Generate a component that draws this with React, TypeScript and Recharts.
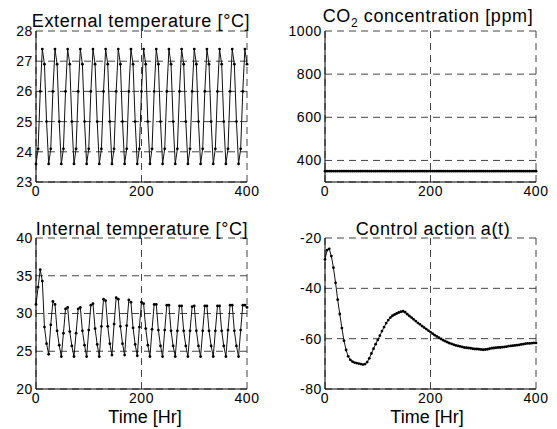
import React from "react";
import {
  LineChart,
  Line,
  XAxis,
  YAxis,
  CartesianGrid,
} from "recharts";

// time axis, 4 hour samples
const hours = [
  0, 4, 8, 12, 16, 20, 24, 28, 32, 36, 40, 44, 48, 52, 56, 60, 64, 68, 72, 76,
  80, 84, 88, 92, 96, 100, 104, 108, 112, 116, 120, 124, 128, 132, 136, 140,
  144, 148, 152, 156, 160, 164, 168, 172, 176, 180, 184, 188, 192, 196, 200,
  204, 208, 212, 216, 220, 224, 228, 232, 236, 240, 244, 248, 252, 256, 260,
  264, 268, 272, 276, 280, 284, 288, 292, 296, 300, 304, 308, 312, 316, 320,
  324, 328, 332, 336, 340, 344, 348, 352, 356, 360, 364, 368, 372, 376, 380,
  384, 388, 392, 396, 400,
];

const extTemp = [
  23.6, 24.1, 26.0, 27.4, 26.9, 25.0,
  23.6, 24.1, 26.0, 27.4, 26.9, 25.0,
  23.6, 24.1, 26.0, 27.4, 26.9, 25.0,
  23.6, 24.1, 26.0, 27.4, 26.9, 25.0,
  23.6, 24.1, 26.0, 27.4, 26.9, 25.0,
  23.6, 24.1, 26.0, 27.4, 26.9, 25.0,
  23.6, 24.1, 26.0, 27.4, 26.9, 25.0,
  23.6, 24.1, 26.0, 27.4, 26.9, 25.0,
  23.6, 24.1, 26.0, 27.4, 26.9, 25.0,
  23.6, 24.1, 26.0, 27.4, 26.9, 25.0,
  23.6, 24.1, 26.0, 27.4, 26.9, 25.0,
  23.6, 24.1, 26.0, 27.4, 26.9, 25.0,
  23.6, 24.1, 26.0, 27.4, 26.9, 25.0,
  23.6, 24.1, 26.0, 27.4, 26.9, 25.0,
  23.6, 24.1, 26.0, 27.4, 26.9, 25.0,
  23.6, 24.1, 26.0, 27.4, 26.9, 25.0,
  23.6, 24.1, 26.0, 27.4, 26.9,
];

const co2 = [
  350, 350, 350, 350, 350, 350, 350, 350, 350, 350, 350, 350, 350, 350, 350,
  350, 350, 350, 350, 350, 350, 350, 350, 350, 350, 350, 350, 350, 350, 350,
  350, 350, 350, 350, 350, 350, 350, 350, 350, 350, 350, 350, 350, 350, 350,
  350, 350, 350, 350, 350, 350, 350, 350, 350, 350, 350, 350, 350, 350, 350,
  350, 350, 350, 350, 350, 350, 350, 350, 350, 350, 350, 350, 350, 350, 350,
  350, 350, 350, 350, 350, 350, 350, 350, 350, 350, 350, 350, 350, 350, 350,
  350, 350, 350, 350, 350, 350, 350, 350, 350, 350, 350,
];

const intTemp = [
  31.2, 33.5, 35.8, 34.3, 28.2, 26.0,
  24.6, 28.5, 31.6, 31.2, 27.7, 25.8,
  24.3, 27.4, 30.6, 30.8, 27.6, 25.7,
  24.3, 27.4, 30.6, 30.8, 27.7, 25.8,
  24.3, 27.8, 31.1, 31.3, 28.0, 25.9,
  24.3, 28.3, 31.9, 31.7, 28.3, 26.0,
  24.5, 28.6, 32.1, 31.9, 28.3, 26.0,
  24.5, 28.4, 31.8, 31.5, 28.1, 25.9,
  24.4, 28.2, 31.5, 31.3, 28.0, 25.8,
  24.3, 27.9, 31.2, 31.2, 27.8, 25.7,
  24.3, 27.8, 31.1, 31.1, 27.7, 25.7,
  24.3, 27.7, 31.0, 31.0, 27.7, 25.7,
  24.3, 27.7, 30.9, 31.0, 27.7, 25.7,
  24.3, 27.7, 31.0, 31.0, 27.7, 25.7,
  24.3, 27.7, 31.0, 31.0, 27.7, 25.7,
  24.3, 27.8, 31.1, 31.1, 27.7, 25.7,
  24.3, 27.8, 31.1, 31.1, 30.8,
];

const control = [
  -28.5, -24.8, -24.3, -27.2, -31.8, -37.8, -44.5, -50.2, -55.8, -60.8,
  -64.5, -67.0, -68.4, -69.1, -69.5, -69.7, -69.9, -70.1, -70.3, -70.1,
  -69.3, -67.8, -65.9, -64.0, -62.2, -60.5, -58.8, -57.0, -55.4, -53.8,
  -52.6, -51.6, -50.9, -50.4, -50.0, -49.6, -49.3, -49.1, -49.5, -50.3,
  -51.0, -51.6, -52.3, -53.0, -53.7, -54.3, -55.0, -55.6, -56.2, -56.8,
  -57.4, -58.0, -58.6, -59.1, -59.6, -60.1, -60.6, -61.0, -61.4, -61.8,
  -62.1, -62.4, -62.7, -62.9, -63.1, -63.3, -63.5, -63.6, -63.7, -63.8,
  -64.0, -64.1, -64.1, -64.2, -64.3, -64.4, -64.3, -64.2, -64.0, -63.8,
  -63.7, -63.6, -63.5, -63.5, -63.4, -63.3, -63.2, -63.0, -62.9, -62.8,
  -62.7, -62.6, -62.5, -62.3, -62.2, -62.0, -61.9, -61.9, -61.8, -61.7,
  -61.7,
];

const xTicks = [0, 200, 400];
const extTicks = [23, 24, 25, 26, 27, 28];
const co2Ticks = [400, 600, 800, 1000];
const intTicks = [20, 25, 30, 35, 40];
const ctrlTicks = [-80, -60, -40, -20];

const data = hours.map((t, i) => ({
  t,
  ext: extTemp[i],
  co2: co2[i],
  int: intTemp[i],
  ctrl: control[i],
}));

const FONT = '"Liberation Sans", Arial, Helvetica, sans-serif';
const tickStyle = { fontSize: 14, fill: "#000", letterSpacing: 0.6 };

function Panel({
  left,
  top,
  width,
  height,
  margin,
  yWidth,
  dataKey,
  yDomain,
  yTicks,
  xHeight,
}: any) {
  return (
    <div style={{ position: "absolute", left, top }}>
      <LineChart width={width} height={height} data={data} margin={margin}>
        <CartesianGrid
          stroke="#444"
          strokeDasharray="7 5"
          horizontal
          vertical
        />
        <XAxis
          dataKey="t"
          type="number"
          domain={[0, 400]}
          ticks={xTicks}
          tickLine={false}
          tickSize={0}
          tickMargin={4}
          height={xHeight}
          axisLine={{ stroke: "#000" }}
          tick={tickStyle}
          interval={0}
        />
        <XAxis
          xAxisId="top"
          orientation="top"
          type="number"
          domain={[0, 400]}
          height={0}
          tick={false}
          tickLine={false}
          axisLine={{ stroke: "#000" }}
        />
        <YAxis
          type="number"
          domain={yDomain}
          ticks={yTicks}
          width={yWidth}
          tickLine={false}
          tickSize={0}
          tickMargin={3}
          axisLine={{ stroke: "#000" }}
          tick={tickStyle}
          interval={0}
          allowDataOverflow
        />
        <YAxis
          yAxisId="right"
          orientation="right"
          type="number"
          domain={yDomain}
          width={0}
          tick={false}
          tickLine={false}
          axisLine={{ stroke: "#000" }}
        />
        <Line
          dataKey={dataKey}
          stroke="#111"
          strokeWidth={1}
          dot={{ r: 1.4, fill: "#000", stroke: "none" }}
          activeDot={false}
          isAnimationActive={false}
        />
      </LineChart>
    </div>
  );
}

const titleBase: React.CSSProperties = {
  position: "absolute",
  width: 300,
  textAlign: "center",
  fontSize: 18,
  lineHeight: "18px",
  letterSpacing: 0.6,
  whiteSpace: "nowrap",
  color: "#000",
};

export default function App() {
  return (
    <div
      style={{
        position: "absolute",
        left: 0,
        top: 0,
        width: 557,
        height: 429,
        background: "#fff",
        fontFamily: FONT,
        overflow: "hidden",
      }}
    >
      <Panel
        left={0}
        top={0}
        width={280}
        height={210}
        margin={{ top: 31, right: 33, bottom: 8, left: 0 }}
        yWidth={36}
        xHeight={20}
        dataKey="ext"
        yDomain={[23, 28]}
        yTicks={extTicks}
      />
      <Panel
        left={280}
        top={0}
        width={277}
        height={210}
        margin={{ top: 31, right: 21, bottom: 8, left: 0 }}
        yWidth={45}
        xHeight={20}
        dataKey="co2"
        yDomain={[300, 1000]}
        yTicks={co2Ticks}
      />
      <Panel
        left={0}
        top={210}
        width={280}
        height={219}
        margin={{ top: 28, right: 33, bottom: 20, left: 0 }}
        yWidth={36}
        xHeight={20}
        dataKey="int"
        yDomain={[20, 40]}
        yTicks={intTicks}
      />
      <Panel
        left={280}
        top={210}
        width={277}
        height={219}
        margin={{ top: 28, right: 21, bottom: 20, left: 0 }}
        yWidth={45}
        xHeight={20}
        dataKey="ctrl"
        yDomain={[-80, -20]}
        yTicks={ctrlTicks}
      />

      <div style={{ ...titleBase, left: 141 - 150, top: 12 }}>
        External temperature [°C]
      </div>
      <div style={{ ...titleBase, left: 428 - 150, top: 7 }}>
        CO
        <span style={{ fontSize: 12, position: "relative", top: 5 }}>2</span>{" "}
        concentration [ppm]
      </div>
      <div style={{ ...titleBase, left: 142 - 150, top: 220 }}>
        Internal temperature [°C]
      </div>
      <div style={{ ...titleBase, left: 433 - 150, top: 220 }}>
        Control action a(t)
      </div>
      <div style={{ ...titleBase, left: 145 - 150, top: 408, letterSpacing: 0 }}>
        Time [Hr]
      </div>
      <div style={{ ...titleBase, left: 427 - 150, top: 408, letterSpacing: 0 }}>
        Time [Hr]
      </div>
    </div>
  );
}
